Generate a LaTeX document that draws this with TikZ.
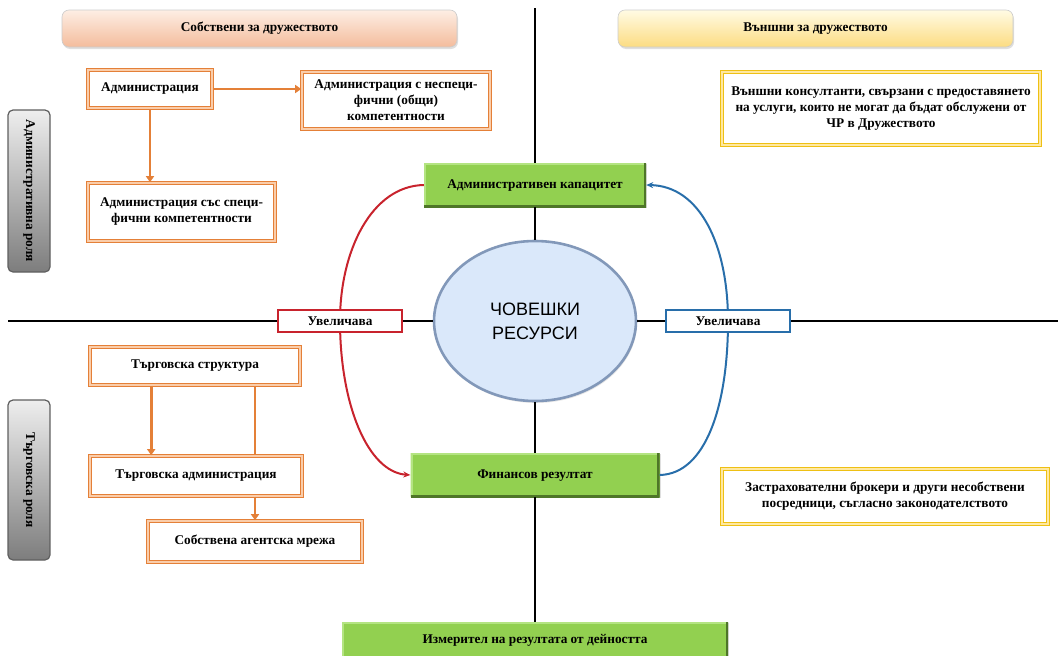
\documentclass[tikz,border=0pt]{standalone}
\usepackage{fontspec}
\setmainfont{Liberation Serif}
\newfontfamily\sansf{Liberation Sans}
\usetikzlibrary{arrows.meta,shadows,calc,shapes.geometric}
\definecolor{orC}{RGB}{228,128,56}
\definecolor{orL}{RGB}{250,205,170}
\definecolor{yeC}{RGB}{238,192,20}
\definecolor{yeL}{RGB}{255,232,160}
\definecolor{grnF}{RGB}{146,208,80}
\definecolor{grnD}{RGB}{78,118,40}
\definecolor{grnL}{RGB}{180,228,130}
\definecolor{redC}{RGB}{200,35,45}
\definecolor{bluC}{RGB}{40,110,170}
\definecolor{ellF}{RGB}{218,232,250}
\definecolor{ellB}{RGB}{130,152,185}
\definecolor{hlT}{RGB}{253,238,228}
\definecolor{hlB}{RGB}{244,188,156}
\definecolor{hrT}{RGB}{255,251,228}
\definecolor{hrB}{RGB}{252,220,130}
\definecolor{gyT}{RGB}{238,238,238}
\definecolor{gyB}{RGB}{125,125,125}
\definecolor{gyD}{RGB}{95,95,95}
\begin{document}
\begin{tikzpicture}[x=1pt,y=-1pt,
  txt/.style={font=\bfseries\fontsize{13.3}{16}\selectfont, align=center, inner sep=0pt},
  obox/.style={txt, rectangle, draw=orC, line width=1.6pt, double=orL, double distance=1.2pt, fill=white},
  ybox/.style={txt, rectangle, draw=yeC, line width=1.7pt, double=yeL, double distance=1.4pt, fill=white},
  gbox/.style={txt, rectangle, fill=grnF, draw=none, text depth=2pt,
    path picture={
      \draw[grnL, line width=4pt] (path picture bounding box.south west) -- (path picture bounding box.north west) -- (path picture bounding box.north east);
      \draw[grnD, line width=5pt] (path picture bounding box.south west) -- (path picture bounding box.south east) -- (path picture bounding box.north east);
    },
    drop shadow={opacity=0.25, shadow xshift=1pt, shadow yshift=-1pt}},
  hbox/.style={txt, rectangle, rounded corners=7pt, draw=black!20, line width=0.6pt,
    drop shadow={opacity=0.25, shadow xshift=1pt, shadow yshift=-2pt}},
  gylab/.style={rectangle, rounded corners=5pt, draw=gyD, line width=1.2pt, top color=gyT, bottom color=gyB},
  ubox/.style={txt, rectangle, fill=white, line width=2.4pt, minimum width=124pt, minimum height=22pt},
  oarr/.style={draw=orC, line width=2.6pt, -{Triangle[length=6pt,width=8pt]}},
  oline/.style={draw=orC, line width=2.6pt},
  axis/.style={draw=black, line width=2.4pt},
  carr/.style={line width=2pt, -{Stealth[length=7pt,width=6pt]}}
]
\useasboundingbox (0,0) rectangle (1058,656);

% headers
\node[hbox, top color=hlT, bottom color=hlB, minimum width=395pt, minimum height=37pt] (hl) at (259.5,28.5) {Собствени за дружеството};
\node[hbox, top color=hrT, bottom color=hrB, minimum width=395pt, minimum height=37pt] (hr) at (815.5,28.5) {Външни за дружеството};

% role labels
\node[gylab, minimum width=42pt, minimum height=162pt] (rl1) at (29,191) {};
\node[txt, rotate=-90] (rl1t) at (rl1.center) {Административна роля};
\node[gylab, minimum width=42pt, minimum height=160pt] (rl2) at (29,480) {};
\node[txt, rotate=-90] (rl2t) at (rl2.center) {Търговска роля};

% axis free ends
\coordinate (vtop) at (535,8);
\coordinate (hleft) at (8,321);
\coordinate (hright) at (1058,321);

% green boxes
\node[gbox, minimum width=222pt, minimum height=44pt] (kap) at (535,185) {Административен капацитет};
\node[gbox, minimum width=249pt, minimum height=44pt] (fin) at (535,475) {Финансов резултат};
\node[gbox, minimum width=386pt, minimum height=36pt] (izm) at (535,640) {Измерител на резултата от дейността};

% ellipse
\node[ellipse, draw=ellB, line width=2.6pt, fill=ellF, minimum width=202pt, minimum height=160pt,
  font=\sansf\fontsize{18}{22}\selectfont, align=center,
  drop shadow={opacity=0.2, shadow xshift=1pt, shadow yshift=-2pt}] (hr0) at (535,321) {ЧОВЕШКИ\\[2pt]РЕСУРСИ};

% axes
\draw[axis] (vtop) -- (kap.north);
\draw[axis] (kap.south) -- (hr0.north);
\draw[axis] (hr0.south) -- (fin.north);
\draw[axis] (fin.south) -- (izm.north);

% curves
\draw[carr, redC] (kap.west) .. controls (372,186) and (340,250) .. (340,321) .. controls (340,405) and (368,472) .. (fin.west);
\draw[carr, bluC] (fin.east) .. controls (706,474) and (728,405) .. (728,321) .. controls (728,245) and (700,186) .. (kap.east);

% Uvelichava boxes
\node[ubox, draw=redC] (uvl) at (340,321) {Увеличава};
\node[ubox, draw=bluC] (uvr) at (728,321) {Увеличава};
\draw[axis] (hleft) -- (uvl.west);
\draw[axis] (uvl.east) -- (hr0.west);
\draw[axis] (hr0.east) -- (uvr.west);
\draw[axis] (uvr.east) -- (hright);

% administrative role boxes
\node[obox, minimum width=124pt, minimum height=38pt] (a1) at (150,89) {Администрация};
\node[obox, minimum width=188pt, minimum height=57pt] (a2) at (396,100.5) {Администрация с неспеци-\\фични (общи)\\компетентности};
\node[obox, minimum width=187pt, minimum height=58pt] (a3) at (181.5,212) {Администрация със специ-\\фични компетентности};
\draw[oarr] (a1.east) -- (a2.west |- a1.east);
\draw[oarr] (a1.south) -- (a1.south |- a3.north);

% commercial role boxes
\node[obox, minimum width=210pt, minimum height=38pt] (t1) at (195,366) {Търговска структура};
\node[obox, minimum width=212pt, minimum height=40pt] (t2) at (196,476) {Търговска администрация};
\node[obox, minimum width=214pt, minimum height=41pt] (t3) at (255,541.5) {Собствена агентска мрежа};
\coordinate (t1a) at ([xshift=62pt]t1.south west);
\draw[oarr] (t1a) -- (t1a |- t2.north);
\draw[oline] (t1.south -| t3.north) -- (t2.north -| t3.north);
\draw[oarr] (t2.south -| t3.north) -- (t3.north);

% external boxes
\node[ybox, minimum width=318pt, minimum height=73pt] (e1) at (881,108.5) {Външни консултанти, свързани с предоставянето\\на услуги, които не могат да бъдат обслужени от\\ЧР в Дружеството};
\node[ybox, minimum width=326pt, minimum height=55pt] (e2) at (885,496.5) {Застрахователни брокери и други несобствени\\посредници, съгласно законодателството};
\end{tikzpicture}
\end{document}
